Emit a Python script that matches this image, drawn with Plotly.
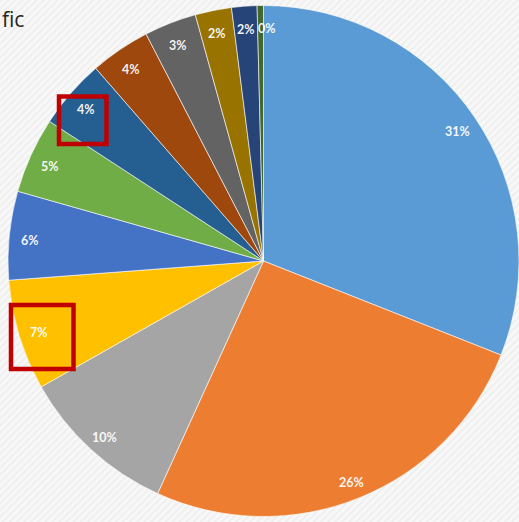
import math
import urllib.parse
import plotly.graph_objects as go

W, H = 519, 522

# ---- data ----
categories = ["Cat 1", "Cat 2", "Cat 3", "Cat 4", "Cat 5", "Cat 6",
              "Cat 7", "Cat 8", "Cat 9", "Cat 10", "Cat 11", "Cat 12"]
values = [31.0, 25.8, 10.0, 7.0, 5.6, 4.8, 4.4, 3.8, 3.3, 2.3, 1.6, 0.4]
colors = ["#5B9BD5", "#ED7D31", "#A5A5A5", "#FFC000", "#4472C4", "#70AD47",
          "#255E91", "#9E480E", "#636363", "#997300", "#264478", "#43682B"]
title_text = "fic"

# ---- pie geometry (domain in paper units) ----
dom_x = [8 / W, 1.0]
dom_y = [0.0, 1.0]

# faint diagonal-hatch background (inline SVG, no network)
svg = ("<svg xmlns='http://www.w3.org/2000/svg' width='519' height='522'>"
       "<defs><pattern id='p' width='5' height='5' patternUnits='userSpaceOnUse' "
       "patternTransform='rotate(45)'><rect width='5' height='5' fill='#F8F8F8'/>"
       "<rect width='2' height='5' fill='#EFEFEF'/></pattern></defs>"
       "<rect width='519' height='522' fill='url(#p)'/></svg>")
bg_src = "data:image/svg+xml;charset=utf-8," + urllib.parse.quote(svg)

fig = go.Figure()
fig.add_trace(go.Pie(
    labels=categories,
    values=values,
    sort=False,
    direction="clockwise",
    rotation=0,
    marker=dict(colors=colors, line=dict(color="rgba(255,255,255,0.6)", width=1)),
    textinfo="none",
    hoverinfo="label+percent",
    showlegend=False,
    domain=dict(x=dom_x, y=dom_y),
))

# label positions derived from the values (Excel "inside end" style)
wpx = (dom_x[1] - dom_x[0]) * W
hpx = (dom_y[1] - dom_y[0]) * H
r = min(wpx, hpx) / 2
cx = dom_x[0] * W + wpx / 2
cy = (1 - dom_y[1]) * H + hpx / 2
total = sum(values)
cum = 0.0
annotations = []
for v in values:
    mid = (cum + v / 2) / total * 2 * math.pi
    cum += v
    px = cx + 0.92 * r * math.sin(mid)
    py = cy - 0.92 * r * math.cos(mid)
    annotations.append(dict(
        x=px / W, y=1 - py / H, xref="paper", yref="paper",
        text="<b>%d%%</b>" % round(v / total * 100),
        showarrow=False, xanchor="center", yanchor="middle",
        xshift=6 if v / total < 0.01 else 0, yshift=-3,
        font=dict(family="Lato", size=12.5, color="rgba(255,255,255,0.95)"),
    ))

annotations.append(dict(
    x=0, y=1 - 3 / H, xref="paper", yref="paper", text=title_text,
    showarrow=False, xanchor="left", yanchor="top",
    font=dict(family="Open Sans", size=21, color="#262626"),
))

def box(x0, y0, x1, y1):
    return dict(type="rect", xref="paper", yref="paper",
                x0=x0 / W, x1=x1 / W, y0=1 - y0 / H, y1=1 - y1 / H,
                line=dict(color="#C00000", width=4.5), fillcolor="rgba(0,0,0,0)")

fig.update_layout(
    width=W, height=H,
    margin=dict(l=0, r=0, t=0, b=0),
    paper_bgcolor="#F4F4F4",
    plot_bgcolor="#F4F4F4",
    annotations=annotations,
    shapes=[box(59, 96.5, 106.5, 144), box(11, 305, 73.5, 369)],
    images=[dict(source=bg_src, xref="paper", yref="paper", x=0, y=1,
                 sizex=1, sizey=1, xanchor="left", yanchor="top",
                 sizing="stretch", layer="below")],
)

fig.write_html("out.html")
